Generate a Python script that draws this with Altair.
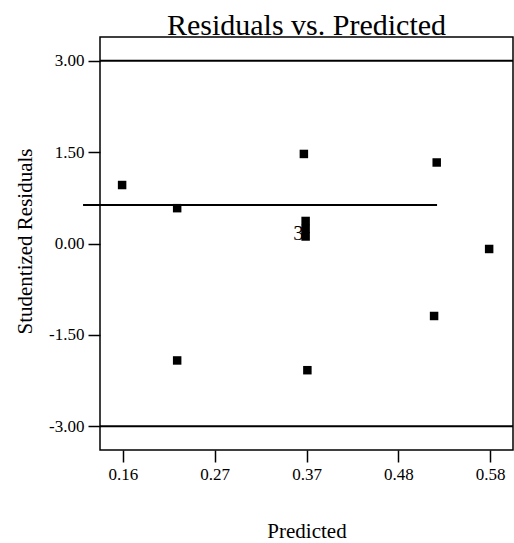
import altair as alt
import pandas as pd

predicted = [0.159, 0.222, 0.367, 0.519, 0.579, 0.369, 0.369, 0.369, 0.222, 0.371, 0.516]
residuals = [0.96, 0.58, 1.47, 1.33, -0.09, 0.37, 0.24, 0.115, -1.92, -2.08, -1.19]

x_ticks = [0.16, 0.265, 0.37, 0.475, 0.58]
x_tick_labels = ["0.16", "0.27", "0.37", "0.48", "0.58"]
y_ticks = [-3.0, -1.5, 0.0, 1.5, 3.0]
y_tick_labels = ["-3.00", "-1.50", "0.00", "1.50", "3.00"]

limit_lines = [3.0, -3.0]
mid_line_y = 0.63
mid_line_x = [0.1143, 0.5194]

label_text = ["3"]
label_x = [0.369]
label_y = [0.06]

x_domain = [0.1337, 0.6063]
y_domain = [-3.39, 3.39]

FONT = "Liberation Serif"

pts = pd.DataFrame({"x": predicted, "y": residuals})
lims = pd.DataFrame({"y": limit_lines})
mid = pd.DataFrame({"x": [mid_line_x[0]], "x2": [mid_line_x[1]], "y": [mid_line_y]})
lab = pd.DataFrame({"x": label_x, "y": label_y, "t": label_text})


def make_expr(vals, labs):
    return ("[" + ",".join(f"'{l}'" for l in labs) + "][indexof(["
            + ",".join(str(v) for v in vals) + "], datum.value)]")


xscale = alt.Scale(domain=x_domain, nice=False, zero=False)
yscale = alt.Scale(domain=y_domain, nice=False, zero=False)

xaxis = alt.Axis(values=x_ticks, labelExpr=make_expr(x_ticks, x_tick_labels), title="Predicted", grid=False,
                 labelFont=FONT, labelFontSize=17, labelColor="black", labelPadding=4,
                 titleFont=FONT, titleFontSize=21, titleFontWeight="normal", titleColor="black",
                 titleY=87, titleBaseline="alphabetic",
                 tickSize=12, tickColor="black", tickWidth=1.5,
                 domain=False)
yaxis = alt.Axis(values=y_ticks, labelExpr=make_expr(y_ticks, y_tick_labels), title="Studentized Residuals",
                 grid=False,
                 labelFont=FONT, labelFontSize=17, labelColor="black", labelPadding=4,
                 titleFont=FONT, titleFontSize=21, titleFontWeight="normal", titleColor="black",
                 titleX=-75, titleY=204, titleAngle=-90, titleBaseline="middle", titleAlign="center",
                 tickSize=12, tickColor="black", tickWidth=1.5,
                 domain=False)

points = alt.Chart(pts).mark_point(shape="square", filled=True, size=72, color="black", opacity=1).encode(
    x=alt.X("x:Q", scale=xscale, axis=xaxis),
    y=alt.Y("y:Q", scale=yscale, axis=yaxis),
)

limits = alt.Chart(lims).mark_rule(color="black", strokeWidth=2).encode(
    y=alt.Y("y:Q", scale=yscale),
)

midline = alt.Chart(mid).mark_rule(color="black", strokeWidth=2).encode(
    x=alt.X("x:Q", scale=xscale),
    x2="x2:Q",
    y=alt.Y("y:Q", scale=yscale),
)

labels = alt.Chart(lab).mark_text(font=FONT, fontSize=21, align="right", baseline="alphabetic",
                                  dx=-2, color="#000000", fill="#000000").encode(
    x=alt.X("x:Q", scale=xscale),
    y=alt.Y("y:Q", scale=yscale),
    text="t:N",
)

chart = alt.layer(limits, midline, labels, points).properties(
    width=413, height=413,
    title=alt.TitleParams("Residuals vs. Predicted", font=FONT, fontSize=30, fontWeight="normal",
                          color="black", anchor="middle", offset=-4),
    autosize=alt.AutoSizeParams(type="none"),
    padding={"left": 100, "top": 37, "right": 1, "bottom": 93},
    background="white",
).configure_view(stroke="black", strokeWidth=1.5)

chart.save("out.html", embed_options={"renderer": "svg", "actions": False})
